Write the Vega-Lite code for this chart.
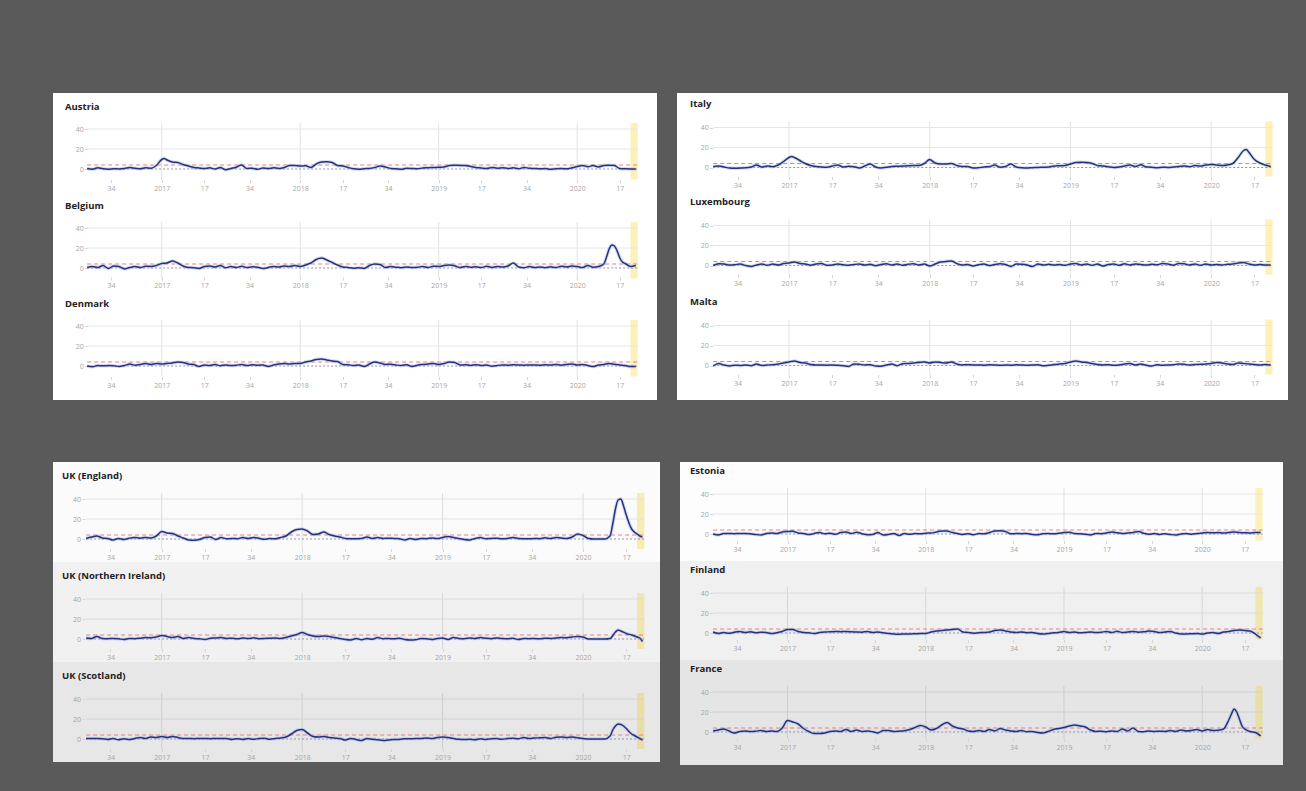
{
"$schema": "https://vega.github.io/schema/vega-lite/v6.json",
"background": "#5a5a5a",
"padding": {"left": 53, "top": 93, "right": 18, "bottom": 26},
"autosize": {"type": "pad"},
"config": {
 "view": {"stroke": null, "fill": "#ffffff"},
 "axis": {"grid": false, "domain": false, "tickSize": 3, "tickColor": "#d5d5d5", "labelPadding": 1.5, "labelFontSize": 7, "labelColor": "#a5a5a5", "labelFont": "Open Sans", "labelOverlap": false, "labelFlush": false},
 "title": {"anchor": "start", "frame": "group", "baseline": "middle", "font": "Open Sans", "fontSize": 9.5, "fontWeight": "bold", "color": "#222222"}
},
"datasets": {
"Austria": [{"w":25,"z":0.5},{"w":27,"z":-0.3},{"w":29,"z":1.2},{"w":31,"z":0.2},{"w":33,"z":-0.2},{"w":35,"z":0.3},{"w":37,"z":0},{"w":39,"z":0.4},{"w":41,"z":1.5},{"w":43,"z":0.8},{"w":45,"z":0.2},{"w":47,"z":1.2},{"w":49,"z":0.8},{"w":51,"z":3.5},{"w":53,"z":9.5},{"w":54,"z":10.5},{"w":55,"z":9},{"w":57,"z":7},{"w":59,"z":6.5},{"w":61,"z":4.5},{"w":63,"z":3},{"w":65,"z":1.5},{"w":67,"z":1},{"w":69,"z":0.5},{"w":71,"z":1.2},{"w":73,"z":0},{"w":75,"z":1.5},{"w":77,"z":-0.8},{"w":79,"z":0.5},{"w":81,"z":1.8},{"w":83,"z":4},{"w":85,"z":0.5},{"w":87,"z":0.8},{"w":89,"z":-0.2},{"w":91,"z":1},{"w":93,"z":0.4},{"w":95,"z":1.3},{"w":97,"z":0.6},{"w":99,"z":1.5},{"w":101,"z":3.5},{"w":103,"z":3.5},{"w":105,"z":3},{"w":107,"z":3.2},{"w":109,"z":1.5},{"w":111,"z":5},{"w":113,"z":7},{"w":115,"z":7.2},{"w":117,"z":6.5},{"w":119,"z":3.5},{"w":121,"z":3},{"w":123,"z":1.5},{"w":125,"z":0.2},{"w":127,"z":-0.2},{"w":129,"z":0.3},{"w":131,"z":0.5},{"w":133,"z":1.5},{"w":135,"z":3},{"w":137,"z":2},{"w":139,"z":0.5},{"w":141,"z":0.2},{"w":143,"z":-0.3},{"w":145,"z":0.8},{"w":147,"z":0.5},{"w":149,"z":0.2},{"w":151,"z":1},{"w":153,"z":1.2},{"w":155,"z":1.5},{"w":157,"z":1.8},{"w":159,"z":2},{"w":161,"z":3.5},{"w":163,"z":3.8},{"w":165,"z":3.5},{"w":167,"z":3.6},{"w":169,"z":2.5},{"w":171,"z":1.5},{"w":173,"z":1},{"w":175,"z":0.5},{"w":177,"z":1.5},{"w":179,"z":0.8},{"w":181,"z":1.3},{"w":183,"z":0.5},{"w":185,"z":1.2},{"w":187,"z":0.3},{"w":189,"z":1.5},{"w":191,"z":0.8},{"w":193,"z":0.5},{"w":195,"z":0.2},{"w":197,"z":0.4},{"w":199,"z":-0.2},{"w":201,"z":0.3},{"w":203,"z":0.5},{"w":205,"z":0.2},{"w":207,"z":1.2},{"w":209,"z":2.5},{"w":211,"z":3.5},{"w":213,"z":2.2},{"w":215,"z":3.5},{"w":217,"z":2},{"w":219,"z":3.5},{"w":221,"z":3.8},{"w":223,"z":3.5},{"w":225,"z":0.5},{"w":227,"z":0.2},{"w":229,"z":0},{"w":231,"z":0}],
"Belgium": [{"w":25,"z":0.5},{"w":27,"z":1.5},{"w":29,"z":0.5},{"w":31,"z":2.5},{"w":33,"z":-0.5},{"w":35,"z":2},{"w":37,"z":1.5},{"w":39,"z":-1},{"w":41,"z":0.5},{"w":43,"z":1.5},{"w":45,"z":0.5},{"w":47,"z":1.8},{"w":49,"z":1.5},{"w":51,"z":2.5},{"w":53,"z":4.5},{"w":55,"z":5},{"w":57,"z":7},{"w":59,"z":5},{"w":61,"z":2},{"w":63,"z":0.5},{"w":65,"z":0.3},{"w":67,"z":-0.5},{"w":69,"z":1.5},{"w":71,"z":2},{"w":73,"z":1},{"w":75,"z":2.5},{"w":77,"z":0.3},{"w":79,"z":1.5},{"w":81,"z":0.5},{"w":83,"z":1.8},{"w":85,"z":0.5},{"w":87,"z":1.2},{"w":89,"z":0.8},{"w":91,"z":-0.5},{"w":93,"z":0.5},{"w":95,"z":1.5},{"w":97,"z":1},{"w":99,"z":2},{"w":101,"z":1.5},{"w":103,"z":2.5},{"w":105,"z":1.5},{"w":107,"z":3},{"w":109,"z":5},{"w":111,"z":8.5},{"w":113,"z":10},{"w":115,"z":8},{"w":117,"z":5.5},{"w":119,"z":3},{"w":121,"z":1},{"w":123,"z":0.5},{"w":125,"z":-0.3},{"w":127,"z":0.3},{"w":129,"z":-0.5},{"w":131,"z":2.5},{"w":133,"z":4},{"w":135,"z":3.5},{"w":137,"z":0.5},{"w":139,"z":1.5},{"w":141,"z":0.8},{"w":143,"z":0.3},{"w":145,"z":1},{"w":147,"z":0.5},{"w":149,"z":0.8},{"w":151,"z":1.5},{"w":153,"z":0.5},{"w":155,"z":1.8},{"w":157,"z":1.5},{"w":159,"z":2.5},{"w":161,"z":3},{"w":163,"z":2.2},{"w":165,"z":0.5},{"w":167,"z":1.5},{"w":169,"z":0.8},{"w":171,"z":1.2},{"w":173,"z":0.5},{"w":175,"z":1.8},{"w":177,"z":0.6},{"w":179,"z":1.5},{"w":181,"z":1},{"w":183,"z":2},{"w":185,"z":5},{"w":187,"z":1},{"w":189,"z":0.3},{"w":191,"z":1.5},{"w":193,"z":0.5},{"w":195,"z":1},{"w":197,"z":0.3},{"w":199,"z":1.2},{"w":201,"z":0.5},{"w":203,"z":1.8},{"w":205,"z":1},{"w":207,"z":2},{"w":209,"z":1.5},{"w":211,"z":0.5},{"w":213,"z":2.5},{"w":215,"z":0.8},{"w":217,"z":1.5},{"w":219,"z":4},{"w":220,"z":11},{"w":221,"z":19},{"w":222,"z":23},{"w":223,"z":22},{"w":224,"z":17},{"w":225,"z":10},{"w":226,"z":6},{"w":227,"z":4.5},{"w":229,"z":1.5},{"w":231,"z":2.5}],
"Denmark": [{"w":25,"z":0},{"w":27,"z":-0.8},{"w":29,"z":0.5},{"w":31,"z":0.2},{"w":33,"z":0.4},{"w":35,"z":0.2},{"w":37,"z":-0.5},{"w":39,"z":0.5},{"w":41,"z":2},{"w":43,"z":0.8},{"w":45,"z":1.5},{"w":47,"z":2.5},{"w":49,"z":1.5},{"w":51,"z":2.5},{"w":53,"z":2},{"w":55,"z":2.5},{"w":57,"z":3},{"w":59,"z":4},{"w":61,"z":3.5},{"w":63,"z":2},{"w":65,"z":1.5},{"w":67,"z":-0.5},{"w":69,"z":1},{"w":71,"z":0.5},{"w":73,"z":1.5},{"w":75,"z":0.3},{"w":77,"z":1},{"w":79,"z":0.5},{"w":81,"z":0.8},{"w":83,"z":1.5},{"w":85,"z":0.5},{"w":87,"z":1.2},{"w":89,"z":0.8},{"w":91,"z":1},{"w":93,"z":-0.5},{"w":95,"z":1},{"w":97,"z":2},{"w":99,"z":2.5},{"w":101,"z":2},{"w":103,"z":2.5},{"w":105,"z":2.5},{"w":107,"z":4},{"w":109,"z":5},{"w":111,"z":6.5},{"w":113,"z":7},{"w":115,"z":6},{"w":117,"z":5},{"w":119,"z":4.5},{"w":121,"z":1.5},{"w":123,"z":1.2},{"w":125,"z":0.5},{"w":127,"z":1},{"w":129,"z":-0.5},{"w":131,"z":2},{"w":133,"z":4},{"w":135,"z":3},{"w":137,"z":1.5},{"w":139,"z":1.8},{"w":141,"z":1},{"w":143,"z":0.5},{"w":145,"z":1.3},{"w":147,"z":-0.5},{"w":149,"z":0.8},{"w":151,"z":1.5},{"w":153,"z":2},{"w":155,"z":2.5},{"w":157,"z":1.5},{"w":159,"z":2.5},{"w":161,"z":4},{"w":163,"z":3.5},{"w":165,"z":1},{"w":167,"z":1.2},{"w":169,"z":0.6},{"w":171,"z":1.3},{"w":173,"z":0.5},{"w":175,"z":1},{"w":177,"z":-0.3},{"w":179,"z":0.5},{"w":181,"z":1},{"w":183,"z":0.8},{"w":185,"z":1.2},{"w":187,"z":1},{"w":189,"z":0.8},{"w":191,"z":1.1},{"w":193,"z":1},{"w":195,"z":0.8},{"w":197,"z":1.2},{"w":199,"z":1},{"w":201,"z":1.5},{"w":203,"z":0.8},{"w":205,"z":1.5},{"w":207,"z":2},{"w":209,"z":1},{"w":211,"z":1.5},{"w":213,"z":0.5},{"w":215,"z":-0.5},{"w":217,"z":1},{"w":219,"z":1.5},{"w":221,"z":2.5},{"w":223,"z":1.8},{"w":225,"z":1},{"w":227,"z":0.5},{"w":229,"z":-0.5},{"w":231,"z":-0.5}],
"Italy": [{"w":25,"z":1},{"w":27,"z":1.5},{"w":29,"z":0.5},{"w":31,"z":-0.5},{"w":33,"z":-0.8},{"w":35,"z":-0.5},{"w":37,"z":-0.3},{"w":39,"z":0.5},{"w":41,"z":2.5},{"w":43,"z":0.5},{"w":45,"z":1.5},{"w":47,"z":0.8},{"w":49,"z":2.5},{"w":51,"z":6},{"w":53,"z":10},{"w":54,"z":11},{"w":55,"z":10},{"w":57,"z":7},{"w":59,"z":4},{"w":61,"z":2},{"w":63,"z":1},{"w":65,"z":0.5},{"w":67,"z":0.3},{"w":69,"z":1.5},{"w":71,"z":2.5},{"w":73,"z":0.5},{"w":75,"z":1.2},{"w":77,"z":0.8},{"w":79,"z":-0.5},{"w":81,"z":1.5},{"w":83,"z":3.5},{"w":85,"z":0.5},{"w":87,"z":-0.5},{"w":89,"z":0.2},{"w":91,"z":1},{"w":93,"z":1.2},{"w":95,"z":1.5},{"w":97,"z":1.8},{"w":99,"z":2},{"w":101,"z":2},{"w":103,"z":4},{"w":105,"z":8},{"w":107,"z":4.5},{"w":109,"z":3.5},{"w":111,"z":3.5},{"w":113,"z":4},{"w":115,"z":2},{"w":117,"z":1},{"w":119,"z":1},{"w":121,"z":-0.5},{"w":123,"z":-0.3},{"w":125,"z":0.5},{"w":127,"z":0.8},{"w":129,"z":2.5},{"w":131,"z":0.3},{"w":133,"z":1},{"w":135,"z":3.5},{"w":137,"z":0.5},{"w":139,"z":-0.3},{"w":141,"z":-0.5},{"w":143,"z":-0.2},{"w":145,"z":0},{"w":147,"z":0.3},{"w":149,"z":0.5},{"w":151,"z":1.5},{"w":153,"z":1.8},{"w":155,"z":2},{"w":157,"z":3.5},{"w":159,"z":5},{"w":161,"z":5.2},{"w":163,"z":5},{"w":165,"z":4},{"w":167,"z":2},{"w":169,"z":1.5},{"w":171,"z":0.8},{"w":173,"z":0},{"w":175,"z":0.5},{"w":177,"z":1.5},{"w":179,"z":2.5},{"w":181,"z":1},{"w":183,"z":2.8},{"w":185,"z":0.5},{"w":187,"z":0.3},{"w":189,"z":-0.2},{"w":191,"z":0.3},{"w":193,"z":0},{"w":195,"z":0.5},{"w":197,"z":1},{"w":199,"z":1.5},{"w":201,"z":0.8},{"w":203,"z":2},{"w":205,"z":1.5},{"w":207,"z":2.5},{"w":209,"z":3},{"w":211,"z":2.5},{"w":213,"z":2},{"w":215,"z":2.5},{"w":217,"z":4},{"w":219,"z":10},{"w":221,"z":17},{"w":222,"z":18},{"w":223,"z":15},{"w":225,"z":8},{"w":227,"z":4.5},{"w":229,"z":2.5},{"w":231,"z":1}],
"Luxembourg": [{"w":25,"z":0},{"w":27,"z":1.8},{"w":29,"z":1.5},{"w":31,"z":0.5},{"w":33,"z":0.8},{"w":35,"z":1.5},{"w":37,"z":0},{"w":39,"z":-1},{"w":41,"z":0.5},{"w":43,"z":1.5},{"w":45,"z":0.2},{"w":47,"z":1.5},{"w":49,"z":0.5},{"w":51,"z":2},{"w":53,"z":2.5},{"w":55,"z":3.5},{"w":57,"z":2},{"w":59,"z":1.5},{"w":61,"z":0.3},{"w":63,"z":1.5},{"w":65,"z":2},{"w":67,"z":0.2},{"w":69,"z":0.5},{"w":71,"z":1.5},{"w":73,"z":0.8},{"w":75,"z":0.2},{"w":77,"z":1},{"w":79,"z":1.5},{"w":81,"z":0.5},{"w":83,"z":1.2},{"w":85,"z":-0.2},{"w":87,"z":1},{"w":89,"z":1.8},{"w":91,"z":0.5},{"w":93,"z":1.5},{"w":95,"z":0.3},{"w":97,"z":1.2},{"w":99,"z":1.8},{"w":101,"z":0.5},{"w":103,"z":1.5},{"w":105,"z":-0.5},{"w":107,"z":1.5},{"w":109,"z":3.5},{"w":111,"z":4},{"w":113,"z":4.5},{"w":115,"z":2},{"w":117,"z":0.5},{"w":119,"z":1},{"w":121,"z":-0.5},{"w":123,"z":0.8},{"w":125,"z":1.5},{"w":127,"z":0},{"w":129,"z":1},{"w":131,"z":1.8},{"w":133,"z":1},{"w":135,"z":-1},{"w":137,"z":1.5},{"w":139,"z":1.2},{"w":141,"z":0.5},{"w":143,"z":-1},{"w":145,"z":1.5},{"w":147,"z":0.5},{"w":149,"z":1.2},{"w":151,"z":0.5},{"w":153,"z":1},{"w":155,"z":0.2},{"w":157,"z":1.5},{"w":159,"z":2},{"w":161,"z":0.5},{"w":163,"z":1.5},{"w":165,"z":0.2},{"w":167,"z":1.5},{"w":169,"z":-0.5},{"w":171,"z":1},{"w":173,"z":1.5},{"w":175,"z":0.2},{"w":177,"z":1.8},{"w":179,"z":0.5},{"w":181,"z":1.5},{"w":183,"z":1},{"w":185,"z":0.5},{"w":187,"z":1.2},{"w":189,"z":0.8},{"w":191,"z":2},{"w":193,"z":1.5},{"w":195,"z":0.3},{"w":197,"z":2},{"w":199,"z":1.8},{"w":201,"z":0.5},{"w":203,"z":1.5},{"w":205,"z":0.2},{"w":207,"z":1.5},{"w":209,"z":0.5},{"w":211,"z":1},{"w":213,"z":0.5},{"w":215,"z":1.2},{"w":217,"z":1.5},{"w":219,"z":2.5},{"w":221,"z":3},{"w":223,"z":1.5},{"w":225,"z":0.5},{"w":227,"z":1},{"w":229,"z":0.5},{"w":231,"z":0.5}],
"Malta": [{"w":25,"z":-0.5},{"w":27,"z":2},{"w":29,"z":0.5},{"w":31,"z":-0.5},{"w":33,"z":0.3},{"w":35,"z":0},{"w":37,"z":0.5},{"w":39,"z":-0.2},{"w":41,"z":1.5},{"w":43,"z":0},{"w":45,"z":0.5},{"w":47,"z":0.8},{"w":49,"z":1.5},{"w":51,"z":2.5},{"w":53,"z":3.5},{"w":55,"z":4.5},{"w":57,"z":3},{"w":59,"z":2.5},{"w":61,"z":1},{"w":63,"z":0.5},{"w":65,"z":0.5},{"w":67,"z":0.3},{"w":69,"z":0.5},{"w":71,"z":0.2},{"w":73,"z":-0.3},{"w":75,"z":-1},{"w":77,"z":1.5},{"w":79,"z":1.2},{"w":81,"z":0.5},{"w":83,"z":0.8},{"w":85,"z":-0.5},{"w":87,"z":-0.8},{"w":89,"z":0.5},{"w":91,"z":1.5},{"w":93,"z":-0.2},{"w":95,"z":1.8},{"w":97,"z":2},{"w":99,"z":2.5},{"w":101,"z":3},{"w":103,"z":3.5},{"w":105,"z":2.5},{"w":107,"z":3.5},{"w":109,"z":3},{"w":111,"z":2.5},{"w":113,"z":3.5},{"w":115,"z":1.5},{"w":117,"z":0.5},{"w":119,"z":0.8},{"w":121,"z":0.5},{"w":123,"z":0.5},{"w":125,"z":0.3},{"w":127,"z":0.8},{"w":129,"z":0.5},{"w":131,"z":0.2},{"w":133,"z":0.5},{"w":135,"z":0.3},{"w":137,"z":0.8},{"w":139,"z":0.5},{"w":141,"z":0.2},{"w":143,"z":0.5},{"w":145,"z":0.8},{"w":147,"z":-0.3},{"w":149,"z":0.3},{"w":151,"z":1},{"w":153,"z":1.5},{"w":155,"z":2},{"w":157,"z":3.5},{"w":159,"z":4.5},{"w":161,"z":3.5},{"w":163,"z":3},{"w":165,"z":2},{"w":167,"z":1},{"w":169,"z":0.5},{"w":171,"z":0.8},{"w":173,"z":0.2},{"w":175,"z":0.5},{"w":177,"z":1.5},{"w":179,"z":2},{"w":181,"z":0.5},{"w":183,"z":1.5},{"w":185,"z":0.3},{"w":187,"z":-0.5},{"w":189,"z":0.8},{"w":191,"z":0.2},{"w":193,"z":0.5},{"w":195,"z":0.8},{"w":197,"z":1.5},{"w":199,"z":1.2},{"w":201,"z":0.5},{"w":203,"z":1},{"w":205,"z":1.2},{"w":207,"z":1.5},{"w":209,"z":2},{"w":211,"z":3},{"w":213,"z":2.5},{"w":215,"z":1.5},{"w":217,"z":1},{"w":219,"z":2.5},{"w":221,"z":2},{"w":223,"z":1.5},{"w":225,"z":1},{"w":227,"z":0.5},{"w":229,"z":1},{"w":231,"z":0.5}],
"England": [{"w":25,"z":0.5},{"w":27,"z":2},{"w":29,"z":3},{"w":31,"z":1},{"w":33,"z":0.5},{"w":35,"z":-1},{"w":37,"z":0.5},{"w":39,"z":-0.5},{"w":41,"z":0.8},{"w":43,"z":1.5},{"w":45,"z":0.8},{"w":47,"z":1.5},{"w":49,"z":1},{"w":51,"z":3},{"w":53,"z":7.5},{"w":55,"z":6},{"w":57,"z":5.5},{"w":59,"z":3},{"w":61,"z":1},{"w":63,"z":-1},{"w":65,"z":-1.2},{"w":67,"z":-0.5},{"w":69,"z":1.5},{"w":71,"z":2},{"w":73,"z":-0.5},{"w":75,"z":1.5},{"w":77,"z":0.2},{"w":79,"z":0.5},{"w":81,"z":0.3},{"w":83,"z":1.5},{"w":85,"z":0.5},{"w":87,"z":1.5},{"w":89,"z":0.8},{"w":91,"z":-0.3},{"w":93,"z":0.5},{"w":95,"z":0.2},{"w":97,"z":1.5},{"w":99,"z":3},{"w":101,"z":7},{"w":103,"z":9.5},{"w":105,"z":10},{"w":107,"z":8},{"w":109,"z":4.5},{"w":111,"z":5},{"w":113,"z":7},{"w":115,"z":4.5},{"w":117,"z":3},{"w":119,"z":2},{"w":121,"z":0.5},{"w":123,"z":0.2},{"w":125,"z":0.3},{"w":127,"z":0.5},{"w":129,"z":2},{"w":131,"z":0.5},{"w":133,"z":1.5},{"w":135,"z":0.5},{"w":137,"z":0.8},{"w":139,"z":0.5},{"w":141,"z":0.3},{"w":143,"z":-1},{"w":145,"z":0.5},{"w":147,"z":-0.5},{"w":149,"z":0.5},{"w":151,"z":0.3},{"w":153,"z":1},{"w":155,"z":0.5},{"w":157,"z":1.5},{"w":159,"z":2.5},{"w":161,"z":1.5},{"w":163,"z":0.5},{"w":165,"z":-0.5},{"w":167,"z":-1},{"w":169,"z":0.5},{"w":171,"z":1.5},{"w":173,"z":0.3},{"w":175,"z":0.5},{"w":177,"z":0.8},{"w":179,"z":0.2},{"w":181,"z":0.5},{"w":183,"z":1.5},{"w":185,"z":0.5},{"w":187,"z":0.3},{"w":189,"z":0.2},{"w":191,"z":0.5},{"w":193,"z":0.3},{"w":195,"z":1.2},{"w":197,"z":0.5},{"w":199,"z":1.5},{"w":201,"z":1},{"w":203,"z":0.5},{"w":205,"z":2},{"w":207,"z":5},{"w":209,"z":3.5},{"w":211,"z":0.5},{"w":213,"z":0},{"w":215,"z":0},{"w":217,"z":0},{"w":219,"z":3},{"w":220,"z":15},{"w":221,"z":30},{"w":222,"z":39},{"w":223,"z":40},{"w":224,"z":33},{"w":225,"z":24},{"w":226,"z":16},{"w":227,"z":10},{"w":228,"z":7},{"w":229,"z":5},{"w":230,"z":3},{"w":231,"z":2}],
"NorthernIreland": [{"w":25,"z":1},{"w":27,"z":0.5},{"w":29,"z":2.5},{"w":31,"z":0.5},{"w":33,"z":0.3},{"w":35,"z":0.5},{"w":37,"z":0.2},{"w":39,"z":-0.5},{"w":41,"z":0.5},{"w":43,"z":0.3},{"w":45,"z":0.8},{"w":47,"z":1.5},{"w":49,"z":1.2},{"w":51,"z":2},{"w":53,"z":3.5},{"w":55,"z":2.5},{"w":57,"z":1.5},{"w":59,"z":2.5},{"w":61,"z":0.5},{"w":63,"z":1.5},{"w":65,"z":0.5},{"w":67,"z":0.2},{"w":69,"z":-0.5},{"w":71,"z":0.8},{"w":73,"z":1},{"w":75,"z":1.5},{"w":77,"z":0.5},{"w":79,"z":0.8},{"w":81,"z":0.2},{"w":83,"z":1},{"w":85,"z":0.5},{"w":87,"z":1.2},{"w":89,"z":0.3},{"w":91,"z":0.5},{"w":93,"z":0.8},{"w":95,"z":1},{"w":97,"z":0.5},{"w":99,"z":1.5},{"w":101,"z":3},{"w":103,"z":4.5},{"w":105,"z":6.5},{"w":107,"z":4.5},{"w":109,"z":3},{"w":111,"z":2.5},{"w":113,"z":3},{"w":115,"z":2.5},{"w":117,"z":1.5},{"w":119,"z":0.5},{"w":121,"z":-0.5},{"w":123,"z":-1},{"w":125,"z":0.5},{"w":127,"z":-0.8},{"w":129,"z":0.5},{"w":131,"z":-0.3},{"w":133,"z":1.5},{"w":135,"z":0.3},{"w":137,"z":0.5},{"w":139,"z":0.2},{"w":141,"z":0.8},{"w":143,"z":-0.5},{"w":145,"z":-1},{"w":147,"z":-0.8},{"w":149,"z":0.5},{"w":151,"z":0.3},{"w":153,"z":-0.5},{"w":155,"z":0.5},{"w":157,"z":1},{"w":159,"z":-0.5},{"w":161,"z":1.5},{"w":163,"z":0.5},{"w":165,"z":0.3},{"w":167,"z":1},{"w":169,"z":0.5},{"w":171,"z":1.5},{"w":173,"z":0.8},{"w":175,"z":0.3},{"w":177,"z":1},{"w":179,"z":0.5},{"w":181,"z":0.2},{"w":183,"z":0.8},{"w":185,"z":-0.5},{"w":187,"z":0.5},{"w":189,"z":0.3},{"w":191,"z":0.5},{"w":193,"z":0.2},{"w":195,"z":0.8},{"w":197,"z":0.5},{"w":199,"z":1},{"w":201,"z":1.5},{"w":203,"z":1.2},{"w":205,"z":2},{"w":207,"z":2.5},{"w":209,"z":2},{"w":211,"z":0},{"w":213,"z":0},{"w":215,"z":0},{"w":217,"z":0},{"w":219,"z":0.5},{"w":221,"z":7},{"w":222,"z":9},{"w":223,"z":8},{"w":225,"z":5.5},{"w":227,"z":4},{"w":229,"z":2},{"w":230,"z":1},{"w":231,"z":-2.5}],
"Scotland": [{"w":25,"z":0.5},{"w":27,"z":0.5},{"w":29,"z":0.5},{"w":31,"z":0.3},{"w":33,"z":-0.5},{"w":35,"z":0.5},{"w":37,"z":-0.8},{"w":39,"z":0.2},{"w":41,"z":-0.5},{"w":43,"z":0.5},{"w":45,"z":1.5},{"w":47,"z":0.5},{"w":49,"z":2},{"w":51,"z":1.5},{"w":53,"z":2.5},{"w":55,"z":1.5},{"w":57,"z":2.5},{"w":59,"z":1.5},{"w":61,"z":0.5},{"w":63,"z":0.5},{"w":65,"z":0.3},{"w":67,"z":0.5},{"w":69,"z":0.5},{"w":71,"z":0.3},{"w":73,"z":0.5},{"w":75,"z":0.4},{"w":77,"z":0.5},{"w":79,"z":-0.5},{"w":81,"z":0.3},{"w":83,"z":-0.5},{"w":85,"z":0.5},{"w":87,"z":-0.3},{"w":89,"z":0.5},{"w":91,"z":0.8},{"w":93,"z":-0.3},{"w":95,"z":0.5},{"w":97,"z":1},{"w":99,"z":2},{"w":101,"z":5},{"w":103,"z":8.5},{"w":105,"z":9.5},{"w":107,"z":6},{"w":109,"z":2.5},{"w":111,"z":2},{"w":113,"z":2.5},{"w":115,"z":1.5},{"w":117,"z":1},{"w":119,"z":0.5},{"w":121,"z":-1},{"w":123,"z":0.5},{"w":125,"z":-0.5},{"w":127,"z":-1.5},{"w":129,"z":0.5},{"w":131,"z":-0.3},{"w":133,"z":-0.8},{"w":135,"z":-1.5},{"w":137,"z":-1},{"w":139,"z":-0.5},{"w":141,"z":-0.5},{"w":143,"z":0.3},{"w":145,"z":0.2},{"w":147,"z":0.5},{"w":149,"z":0.5},{"w":151,"z":1},{"w":153,"z":0.5},{"w":155,"z":1.5},{"w":157,"z":2},{"w":159,"z":1.5},{"w":161,"z":0.5},{"w":163,"z":-0.3},{"w":165,"z":-0.5},{"w":167,"z":-0.3},{"w":169,"z":-0.8},{"w":171,"z":0.2},{"w":173,"z":-0.5},{"w":175,"z":0.3},{"w":177,"z":0.5},{"w":179,"z":-0.3},{"w":181,"z":0.5},{"w":183,"z":0.8},{"w":185,"z":0.2},{"w":187,"z":1.5},{"w":189,"z":0.5},{"w":191,"z":1},{"w":193,"z":1.2},{"w":195,"z":1.5},{"w":197,"z":0.5},{"w":199,"z":1.8},{"w":201,"z":2},{"w":203,"z":1.5},{"w":205,"z":2},{"w":207,"z":1.2},{"w":209,"z":0.5},{"w":211,"z":0},{"w":213,"z":0},{"w":215,"z":0},{"w":217,"z":0},{"w":219,"z":3},{"w":220,"z":9},{"w":221,"z":13},{"w":222,"z":15},{"w":223,"z":14.5},{"w":224,"z":13},{"w":225,"z":10.5},{"w":226,"z":7.5},{"w":227,"z":5},{"w":228,"z":3.5},{"w":229,"z":2},{"w":231,"z":-1}],
"Estonia": [{"w":25,"z":0},{"w":27,"z":-1},{"w":29,"z":0.5},{"w":31,"z":0.5},{"w":33,"z":0.3},{"w":35,"z":0.5},{"w":37,"z":0.5},{"w":39,"z":0.3},{"w":41,"z":-0.5},{"w":43,"z":-1},{"w":45,"z":0.5},{"w":47,"z":1},{"w":49,"z":0.5},{"w":51,"z":2},{"w":53,"z":2.5},{"w":55,"z":2.8},{"w":57,"z":1},{"w":59,"z":0.5},{"w":61,"z":-0.5},{"w":63,"z":0.5},{"w":65,"z":1.5},{"w":67,"z":0.2},{"w":69,"z":0.8},{"w":71,"z":-0.3},{"w":73,"z":1.5},{"w":75,"z":2},{"w":77,"z":0.5},{"w":79,"z":1.8},{"w":81,"z":0.3},{"w":83,"z":-0.8},{"w":85,"z":-0.5},{"w":87,"z":1.5},{"w":89,"z":-1},{"w":91,"z":-0.5},{"w":93,"z":0.5},{"w":95,"z":-1.5},{"w":97,"z":0.5},{"w":99,"z":-0.3},{"w":101,"z":0.5},{"w":103,"z":0.2},{"w":105,"z":0.8},{"w":107,"z":1},{"w":109,"z":2},{"w":111,"z":3},{"w":113,"z":3},{"w":115,"z":1.5},{"w":117,"z":0.5},{"w":119,"z":-0.5},{"w":121,"z":0.3},{"w":123,"z":-0.8},{"w":125,"z":0.5},{"w":127,"z":0.2},{"w":129,"z":1.5},{"w":131,"z":3},{"w":133,"z":3.2},{"w":135,"z":2.5},{"w":137,"z":0.2},{"w":139,"z":0.5},{"w":141,"z":0.3},{"w":143,"z":0.5},{"w":145,"z":-0.5},{"w":147,"z":-0.8},{"w":149,"z":0.3},{"w":151,"z":0.5},{"w":153,"z":0.2},{"w":155,"z":0.8},{"w":157,"z":1.5},{"w":159,"z":1.8},{"w":161,"z":0.5},{"w":163,"z":0.2},{"w":165,"z":-0.3},{"w":167,"z":-1},{"w":169,"z":0.5},{"w":171,"z":0.3},{"w":173,"z":1},{"w":175,"z":2},{"w":177,"z":1.2},{"w":179,"z":0.5},{"w":181,"z":1},{"w":183,"z":1.5},{"w":185,"z":2.5},{"w":187,"z":0.8},{"w":189,"z":-0.3},{"w":191,"z":0.5},{"w":193,"z":-0.5},{"w":195,"z":0.3},{"w":197,"z":-0.5},{"w":199,"z":-1},{"w":201,"z":0},{"w":203,"z":0.5},{"w":205,"z":-0.3},{"w":207,"z":0.5},{"w":209,"z":1},{"w":211,"z":1.5},{"w":213,"z":1.2},{"w":215,"z":1.5},{"w":217,"z":1},{"w":219,"z":1.5},{"w":221,"z":2},{"w":223,"z":1.5},{"w":225,"z":1.2},{"w":227,"z":1},{"w":229,"z":1.5},{"w":231,"z":1.5}],
"Finland": [{"w":25,"z":1},{"w":27,"z":-0.5},{"w":29,"z":0.5},{"w":31,"z":-0.3},{"w":33,"z":0.8},{"w":35,"z":1.5},{"w":37,"z":0.5},{"w":39,"z":1.2},{"w":41,"z":0.3},{"w":43,"z":0.8},{"w":45,"z":0.5},{"w":47,"z":-0.5},{"w":49,"z":0.3},{"w":51,"z":1.5},{"w":53,"z":3.5},{"w":55,"z":3.5},{"w":57,"z":1.5},{"w":59,"z":0.5},{"w":61,"z":0.2},{"w":63,"z":-0.5},{"w":65,"z":0.5},{"w":67,"z":1},{"w":69,"z":1.2},{"w":71,"z":1.5},{"w":73,"z":1.3},{"w":75,"z":1.5},{"w":77,"z":1.2},{"w":79,"z":1},{"w":81,"z":0.8},{"w":83,"z":1.5},{"w":85,"z":0.5},{"w":87,"z":1},{"w":89,"z":0.2},{"w":91,"z":-0.5},{"w":93,"z":-1},{"w":95,"z":-1.2},{"w":97,"z":-1},{"w":99,"z":-1},{"w":101,"z":-0.8},{"w":103,"z":-0.5},{"w":105,"z":-0.5},{"w":107,"z":1},{"w":109,"z":2},{"w":111,"z":2.5},{"w":113,"z":3},{"w":115,"z":3.5},{"w":117,"z":4},{"w":119,"z":1},{"w":121,"z":0.5},{"w":123,"z":-0.2},{"w":125,"z":0.3},{"w":127,"z":0.5},{"w":129,"z":1},{"w":131,"z":2.5},{"w":133,"z":3},{"w":135,"z":2},{"w":137,"z":1},{"w":139,"z":0.5},{"w":141,"z":1},{"w":143,"z":0.3},{"w":145,"z":0.5},{"w":147,"z":-0.5},{"w":149,"z":-1},{"w":151,"z":-0.5},{"w":153,"z":0.2},{"w":155,"z":0.5},{"w":157,"z":1.5},{"w":159,"z":0.5},{"w":161,"z":1},{"w":163,"z":0.2},{"w":165,"z":0.5},{"w":167,"z":1},{"w":169,"z":0.5},{"w":171,"z":0.8},{"w":173,"z":1.5},{"w":175,"z":0.5},{"w":177,"z":1.8},{"w":179,"z":0.5},{"w":181,"z":1},{"w":183,"z":1.5},{"w":185,"z":0.8},{"w":187,"z":1.2},{"w":189,"z":2},{"w":191,"z":1.5},{"w":193,"z":0.5},{"w":195,"z":1},{"w":197,"z":1.5},{"w":199,"z":0},{"w":201,"z":-1},{"w":203,"z":-1},{"w":205,"z":-0.8},{"w":207,"z":-0.5},{"w":209,"z":-1},{"w":211,"z":0},{"w":213,"z":0.5},{"w":215,"z":-0.5},{"w":217,"z":1},{"w":219,"z":1.5},{"w":221,"z":2.5},{"w":223,"z":3},{"w":225,"z":2.5},{"w":227,"z":2},{"w":229,"z":-1},{"w":230,"z":-3},{"w":231,"z":-5}],
"France": [{"w":25,"z":1},{"w":27,"z":2},{"w":29,"z":3},{"w":31,"z":1},{"w":33,"z":-1},{"w":35,"z":0.5},{"w":37,"z":1},{"w":39,"z":0.5},{"w":41,"z":0.8},{"w":43,"z":1.5},{"w":45,"z":0.5},{"w":47,"z":1},{"w":49,"z":0.5},{"w":51,"z":4},{"w":53,"z":11.5},{"w":55,"z":10},{"w":57,"z":8},{"w":59,"z":3.5},{"w":61,"z":0.5},{"w":63,"z":-1.5},{"w":65,"z":-1.5},{"w":67,"z":-1},{"w":69,"z":0.5},{"w":71,"z":1},{"w":73,"z":0.5},{"w":75,"z":2.5},{"w":77,"z":0.5},{"w":79,"z":2},{"w":81,"z":0.5},{"w":83,"z":1},{"w":85,"z":0.3},{"w":87,"z":-1},{"w":89,"z":1.5},{"w":91,"z":1.5},{"w":93,"z":0.5},{"w":95,"z":0.8},{"w":97,"z":1.2},{"w":99,"z":2.5},{"w":101,"z":4.5},{"w":103,"z":6.5},{"w":105,"z":5},{"w":107,"z":2},{"w":109,"z":3.5},{"w":111,"z":7},{"w":113,"z":9.5},{"w":115,"z":6},{"w":117,"z":4},{"w":119,"z":3},{"w":121,"z":1},{"w":123,"z":0.5},{"w":125,"z":1.5},{"w":127,"z":0.5},{"w":129,"z":2.5},{"w":131,"z":1},{"w":133,"z":3.5},{"w":135,"z":2},{"w":137,"z":1},{"w":139,"z":0.5},{"w":141,"z":1.5},{"w":143,"z":0.3},{"w":145,"z":0.5},{"w":147,"z":-0.5},{"w":149,"z":-1},{"w":151,"z":0.5},{"w":153,"z":2.5},{"w":155,"z":3.5},{"w":157,"z":4.5},{"w":159,"z":6},{"w":161,"z":7},{"w":163,"z":6},{"w":165,"z":5},{"w":167,"z":2},{"w":169,"z":0.5},{"w":171,"z":0.8},{"w":173,"z":0.3},{"w":175,"z":1},{"w":177,"z":0.5},{"w":179,"z":3},{"w":181,"z":1},{"w":183,"z":4},{"w":185,"z":0.5},{"w":187,"z":0.3},{"w":189,"z":1},{"w":191,"z":0.5},{"w":193,"z":0.8},{"w":195,"z":0.5},{"w":197,"z":1.5},{"w":199,"z":0.5},{"w":201,"z":2},{"w":203,"z":1},{"w":205,"z":1.5},{"w":207,"z":2.5},{"w":209,"z":1},{"w":211,"z":2.5},{"w":213,"z":1.5},{"w":215,"z":1.8},{"w":217,"z":3},{"w":219,"z":12},{"w":220,"z":18},{"w":221,"z":23},{"w":222,"z":20},{"w":223,"z":13},{"w":224,"z":6},{"w":225,"z":3},{"w":227,"z":0.5},{"w":229,"z":-0.5},{"w":230,"z":-2},{"w":231,"z":-4}]
},
"vconcat": [
{"hconcat": [
{"vconcat": [
{"width": 604, "height": 99, "title": {"text": "Austria", "offset": -18, "dx": 12},
 "layer": [
 {"data": {"values": [{}]}, "mark": {"type": "rect", "color": "#fbf1b9"}, "encoding": {"x": {"datum": 229}, "x2": {"datum": 231.7}, "y": {"datum": 46}, "y2": {"datum": -10.5}}},
 {"data": {"values": [{"t": 53}, {"t": 105}, {"t": 157}, {"t": 209}]}, "mark": {"type": "rule", "color": "#e2e2e2"}, "encoding": {"x": {"field": "t", "type": "quantitative"}, "y": {"datum": 46}, "y2": {"datum": -10.5}}},
 {"data": {"values": [{"g": 20}, {"g": 40}]}, "mark": {"type": "rule", "color": "#e6e6e6"}, "encoding": {"y": {"field": "g", "type": "quantitative"}, "x": {"datum": 25}, "x2": {"datum": 231.7}}},
 {"data": {"values": [{}]}, "mark": {"type": "rule", "color": "#8d93b3", "strokeDash": [2, 2]}, "encoding": {"y": {"datum": 0}, "x": {"datum": 25}, "x2": {"datum": 231.7}}},
 {"data": {"values": [{}]}, "mark": {"type": "rule", "color": "#e77f86", "strokeDash": [4, 3]}, "encoding": {"y": {"datum": 4}, "x": {"datum": 25}, "x2": {"datum": 231.7}}},
 {"data": {"name": "Austria"}, "mark": {"type": "line", "color": "#aebbe8", "strokeWidth": 3.5, "opacity": 0.5, "interpolate": "monotone"}, "encoding": {"x": {"field": "w", "type": "quantitative"}, "y": {"field": "z", "type": "quantitative"}}},
 {"data": {"name": "Austria"}, "mark": {"type": "line", "color": "#26337c", "strokeWidth": 1.5, "interpolate": "monotone"}, "encoding": {"x": {"field": "w", "type": "quantitative", "scale": {"domain": [12.19, 238.96], "nice": false, "zero": false}, "axis": {"values": [34, 53, 69, 86, 105, 121, 138, 157, 173, 190, 209, 225], "labelExpr": "datum.value==53?'2017':datum.value==105?'2018':datum.value==157?'2019':datum.value==209?'2020':''+((datum.value-1)%52+1)", "offset": -12.5, "title": null}}, "y": {"field": "z", "type": "quantitative", "scale": {"domain": [-23, 76], "nice": false, "zero": false}, "axis": {"values": [0, 20, 40], "offset": -34.7, "title": null}}}}
 ]},
{"width": 604, "height": 98, "title": {"text": "Belgium", "offset": -18, "dx": 12},
 "layer": [
 {"data": {"values": [{}]}, "mark": {"type": "rect", "color": "#fbf1b9"}, "encoding": {"x": {"datum": 229}, "x2": {"datum": 231.7}, "y": {"datum": 46}, "y2": {"datum": -10.5}}},
 {"data": {"values": [{"t": 53}, {"t": 105}, {"t": 157}, {"t": 209}]}, "mark": {"type": "rule", "color": "#e2e2e2"}, "encoding": {"x": {"field": "t", "type": "quantitative"}, "y": {"datum": 46}, "y2": {"datum": -10.5}}},
 {"data": {"values": [{"g": 20}, {"g": 40}]}, "mark": {"type": "rule", "color": "#e6e6e6"}, "encoding": {"y": {"field": "g", "type": "quantitative"}, "x": {"datum": 25}, "x2": {"datum": 231.7}}},
 {"data": {"values": [{}]}, "mark": {"type": "rule", "color": "#8d93b3", "strokeDash": [2, 2]}, "encoding": {"y": {"datum": 0}, "x": {"datum": 25}, "x2": {"datum": 231.7}}},
 {"data": {"values": [{}]}, "mark": {"type": "rule", "color": "#e77f86", "strokeDash": [4, 3]}, "encoding": {"y": {"datum": 4}, "x": {"datum": 25}, "x2": {"datum": 231.7}}},
 {"data": {"name": "Belgium"}, "mark": {"type": "line", "color": "#aebbe8", "strokeWidth": 3.5, "opacity": 0.5, "interpolate": "monotone"}, "encoding": {"x": {"field": "w", "type": "quantitative"}, "y": {"field": "z", "type": "quantitative"}}},
 {"data": {"name": "Belgium"}, "mark": {"type": "line", "color": "#26337c", "strokeWidth": 1.5, "interpolate": "monotone"}, "encoding": {"x": {"field": "w", "type": "quantitative", "scale": {"domain": [12.19, 238.96], "nice": false, "zero": false}, "axis": {"values": [34, 53, 69, 86, 105, 121, 138, 157, 173, 190, 209, 225], "labelExpr": "datum.value==53?'2017':datum.value==105?'2018':datum.value==157?'2019':datum.value==209?'2020':''+((datum.value-1)%52+1)", "offset": -13, "title": null}}, "y": {"field": "z", "type": "quantitative", "scale": {"domain": [-22, 76], "nice": false, "zero": false}, "axis": {"values": [0, 20, 40], "offset": -34.7, "title": null}}}}
 ]},
{"width": 604, "height": 110, "title": {"text": "Denmark", "offset": -18, "dx": 12},
 "layer": [
 {"data": {"values": [{}]}, "mark": {"type": "rect", "color": "#fbf1b9"}, "encoding": {"x": {"datum": 229}, "x2": {"datum": 231.7}, "y": {"datum": 46}, "y2": {"datum": -10.5}}},
 {"data": {"values": [{"t": 53}, {"t": 105}, {"t": 157}, {"t": 209}]}, "mark": {"type": "rule", "color": "#e2e2e2"}, "encoding": {"x": {"field": "t", "type": "quantitative"}, "y": {"datum": 46}, "y2": {"datum": -10.5}}},
 {"data": {"values": [{"g": 20}, {"g": 40}]}, "mark": {"type": "rule", "color": "#e6e6e6"}, "encoding": {"y": {"field": "g", "type": "quantitative"}, "x": {"datum": 25}, "x2": {"datum": 231.7}}},
 {"data": {"values": [{}]}, "mark": {"type": "rule", "color": "#8d93b3", "strokeDash": [2, 2]}, "encoding": {"y": {"datum": 0}, "x": {"datum": 25}, "x2": {"datum": 231.7}}},
 {"data": {"values": [{}]}, "mark": {"type": "rule", "color": "#e77f86", "strokeDash": [4, 3]}, "encoding": {"y": {"datum": 4}, "x": {"datum": 25}, "x2": {"datum": 231.7}}},
 {"data": {"name": "Denmark"}, "mark": {"type": "line", "color": "#aebbe8", "strokeWidth": 3.5, "opacity": 0.5, "interpolate": "monotone"}, "encoding": {"x": {"field": "w", "type": "quantitative"}, "y": {"field": "z", "type": "quantitative"}}},
 {"data": {"name": "Denmark"}, "mark": {"type": "line", "color": "#26337c", "strokeWidth": 1.5, "interpolate": "monotone"}, "encoding": {"x": {"field": "w", "type": "quantitative", "scale": {"domain": [12.19, 238.96], "nice": false, "zero": false}, "axis": {"values": [34, 53, 69, 86, 105, 121, 138, 157, 173, 190, 209, 225], "labelExpr": "datum.value==53?'2017':datum.value==105?'2018':datum.value==157?'2019':datum.value==209?'2020':''+((datum.value-1)%52+1)", "offset": -23.5, "title": null}}, "y": {"field": "z", "type": "quantitative", "scale": {"domain": [-34, 76], "nice": false, "zero": false}, "axis": {"values": [0, 20, 40], "offset": -34.7, "title": null}}}}
 ]}
], "spacing": 0},
{"vconcat": [
{"width": 611, "height": 98, "title": {"text": "Italy", "offset": -15, "dx": 13},
 "layer": [
 {"data": {"values": [{}]}, "mark": {"type": "rect", "color": "#fbf1b9"}, "encoding": {"x": {"datum": 229}, "x2": {"datum": 231.7}, "y": {"datum": 46}, "y2": {"datum": -9}}},
 {"data": {"values": [{"t": 53}, {"t": 105}, {"t": 157}, {"t": 209}]}, "mark": {"type": "rule", "color": "#e2e2e2"}, "encoding": {"x": {"field": "t", "type": "quantitative"}, "y": {"datum": 46}, "y2": {"datum": -9}}},
 {"data": {"values": [{"g": 20}, {"g": 40}]}, "mark": {"type": "rule", "color": "#e6e6e6"}, "encoding": {"y": {"field": "g", "type": "quantitative"}, "x": {"datum": 25}, "x2": {"datum": 231.7}}},
 {"data": {"values": [{}]}, "mark": {"type": "rule", "color": "#8d93b3", "strokeDash": [2, 2]}, "encoding": {"y": {"datum": 0}, "x": {"datum": 25}, "x2": {"datum": 231.7}}},
 {"data": {"values": [{}]}, "mark": {"type": "rule", "color": "#e77f86", "strokeDash": [4, 3]}, "encoding": {"y": {"datum": 4}, "x": {"datum": 25}, "x2": {"datum": 231.7}}},
 {"data": {"name": "Italy"}, "mark": {"type": "line", "color": "#aebbe8", "strokeWidth": 3.5, "opacity": 0.5, "interpolate": "monotone"}, "encoding": {"x": {"field": "w", "type": "quantitative"}, "y": {"field": "z", "type": "quantitative"}}},
 {"data": {"name": "Italy"}, "mark": {"type": "line", "color": "#26337c", "strokeWidth": 1.5, "interpolate": "monotone"}, "encoding": {"x": {"field": "w", "type": "quantitative", "scale": {"domain": [11.62, 237.4], "nice": false, "zero": false}, "axis": {"values": [34, 53, 69, 86, 105, 121, 138, 157, 173, 190, 209, 225], "labelExpr": "datum.value==53?'2017':datum.value==105?'2018':datum.value==157?'2019':datum.value==209?'2020':''+((datum.value-1)%52+1)", "offset": -14.5, "title": null}}, "y": {"field": "z", "type": "quantitative", "scale": {"domain": [-23.5, 74.5], "nice": false, "zero": false}, "axis": {"values": [0, 20, 40], "offset": -35.7, "title": null}}}}
 ]},
{"width": 611, "height": 100, "title": {"text": "Luxembourg", "offset": -15, "dx": 13},
 "layer": [
 {"data": {"values": [{}]}, "mark": {"type": "rect", "color": "#fbf1b9"}, "encoding": {"x": {"datum": 229}, "x2": {"datum": 231.7}, "y": {"datum": 46}, "y2": {"datum": -9}}},
 {"data": {"values": [{"t": 53}, {"t": 105}, {"t": 157}, {"t": 209}]}, "mark": {"type": "rule", "color": "#e2e2e2"}, "encoding": {"x": {"field": "t", "type": "quantitative"}, "y": {"datum": 46}, "y2": {"datum": -9}}},
 {"data": {"values": [{"g": 20}, {"g": 40}]}, "mark": {"type": "rule", "color": "#e6e6e6"}, "encoding": {"y": {"field": "g", "type": "quantitative"}, "x": {"datum": 25}, "x2": {"datum": 231.7}}},
 {"data": {"values": [{}]}, "mark": {"type": "rule", "color": "#8d93b3", "strokeDash": [2, 2]}, "encoding": {"y": {"datum": 0}, "x": {"datum": 25}, "x2": {"datum": 231.7}}},
 {"data": {"values": [{}]}, "mark": {"type": "rule", "color": "#e77f86", "strokeDash": [4, 3]}, "encoding": {"y": {"datum": 4}, "x": {"datum": 25}, "x2": {"datum": 231.7}}},
 {"data": {"name": "Luxembourg"}, "mark": {"type": "line", "color": "#aebbe8", "strokeWidth": 3.5, "opacity": 0.5, "interpolate": "monotone"}, "encoding": {"x": {"field": "w", "type": "quantitative"}, "y": {"field": "z", "type": "quantitative"}}},
 {"data": {"name": "Luxembourg"}, "mark": {"type": "line", "color": "#26337c", "strokeWidth": 1.5, "interpolate": "monotone"}, "encoding": {"x": {"field": "w", "type": "quantitative", "scale": {"domain": [11.62, 237.4], "nice": false, "zero": false}, "axis": {"values": [34, 53, 69, 86, 105, 121, 138, 157, 173, 190, 209, 225], "labelExpr": "datum.value==53?'2017':datum.value==105?'2018':datum.value==157?'2019':datum.value==209?'2020':''+((datum.value-1)%52+1)", "offset": -16.5, "title": null}}, "y": {"field": "z", "type": "quantitative", "scale": {"domain": [-25.5, 74.5], "nice": false, "zero": false}, "axis": {"values": [0, 20, 40], "offset": -35.7, "title": null}}}}
 ]},
{"width": 611, "height": 109, "title": {"text": "Malta", "offset": -15, "dx": 13},
 "layer": [
 {"data": {"values": [{}]}, "mark": {"type": "rect", "color": "#fbf1b9"}, "encoding": {"x": {"datum": 229}, "x2": {"datum": 231.7}, "y": {"datum": 46}, "y2": {"datum": -9}}},
 {"data": {"values": [{"t": 53}, {"t": 105}, {"t": 157}, {"t": 209}]}, "mark": {"type": "rule", "color": "#e2e2e2"}, "encoding": {"x": {"field": "t", "type": "quantitative"}, "y": {"datum": 46}, "y2": {"datum": -9}}},
 {"data": {"values": [{"g": 20}, {"g": 40}]}, "mark": {"type": "rule", "color": "#e6e6e6"}, "encoding": {"y": {"field": "g", "type": "quantitative"}, "x": {"datum": 25}, "x2": {"datum": 231.7}}},
 {"data": {"values": [{}]}, "mark": {"type": "rule", "color": "#8d93b3", "strokeDash": [2, 2]}, "encoding": {"y": {"datum": 0}, "x": {"datum": 25}, "x2": {"datum": 231.7}}},
 {"data": {"values": [{}]}, "mark": {"type": "rule", "color": "#e77f86", "strokeDash": [4, 3]}, "encoding": {"y": {"datum": 4}, "x": {"datum": 25}, "x2": {"datum": 231.7}}},
 {"data": {"name": "Malta"}, "mark": {"type": "line", "color": "#aebbe8", "strokeWidth": 3.5, "opacity": 0.5, "interpolate": "monotone"}, "encoding": {"x": {"field": "w", "type": "quantitative"}, "y": {"field": "z", "type": "quantitative"}}},
 {"data": {"name": "Malta"}, "mark": {"type": "line", "color": "#26337c", "strokeWidth": 1.5, "interpolate": "monotone"}, "encoding": {"x": {"field": "w", "type": "quantitative", "scale": {"domain": [11.62, 237.4], "nice": false, "zero": false}, "axis": {"values": [34, 53, 69, 86, 105, 121, 138, 157, 173, 190, 209, 225], "labelExpr": "datum.value==53?'2017':datum.value==105?'2018':datum.value==157?'2019':datum.value==209?'2020':''+((datum.value-1)%52+1)", "offset": -25.5, "title": null}}, "y": {"field": "z", "type": "quantitative", "scale": {"domain": [-34.5, 74.5], "nice": false, "zero": false}, "axis": {"values": [0, 20, 40], "offset": -35.7, "title": null}}}}
 ]}
], "spacing": 0}
], "spacing": 20},
{"hconcat": [
{"vconcat": [
{"width": 607, "height": 100, "view": {"fill": "#fbfbfb", "stroke": null}, "title": {"text": "UK (England)", "offset": -18, "dx": 9},
 "layer": [
 {"data": {"values": [{}]}, "mark": {"type": "rect", "color": "#f7ecb2"}, "encoding": {"x": {"datum": 229}, "x2": {"datum": 231.7}, "y": {"datum": 46}, "y2": {"datum": -10}}},
 {"data": {"values": [{"t": 53}, {"t": 105}, {"t": 157}, {"t": 209}]}, "mark": {"type": "rule", "color": "#dedede"}, "encoding": {"x": {"field": "t", "type": "quantitative"}, "y": {"datum": 46}, "y2": {"datum": -10}}},
 {"data": {"values": [{"g": 20}, {"g": 40}]}, "mark": {"type": "rule", "color": "#e2e2e2"}, "encoding": {"y": {"field": "g", "type": "quantitative"}, "x": {"datum": 25}, "x2": {"datum": 231.7}}},
 {"data": {"values": [{}]}, "mark": {"type": "rule", "color": "#8d93b3", "strokeDash": [2, 2]}, "encoding": {"y": {"datum": 0}, "x": {"datum": 25}, "x2": {"datum": 231.7}}},
 {"data": {"values": [{}]}, "mark": {"type": "rule", "color": "#e77f86", "strokeDash": [4, 3]}, "encoding": {"y": {"datum": 4}, "x": {"datum": 25}, "x2": {"datum": 231.7}}},
 {"data": {"name": "England"}, "mark": {"type": "line", "color": "#aebbe8", "strokeWidth": 3.5, "opacity": 0.5, "interpolate": "monotone"}, "encoding": {"x": {"field": "w", "type": "quantitative"}, "y": {"field": "z", "type": "quantitative"}}},
 {"data": {"name": "England"}, "mark": {"type": "line", "color": "#26337c", "strokeWidth": 1.5, "interpolate": "monotone"}, "encoding": {"x": {"field": "w", "type": "quantitative", "scale": {"domain": [12.75, 237.5], "nice": false, "zero": false}, "axis": {"values": [34, 53, 69, 86, 105, 121, 138, 157, 173, 190, 209, 225], "labelExpr": "datum.value==53?'2017':datum.value==105?'2018':datum.value==157?'2019':datum.value==209?'2020':''+((datum.value-1)%52+1)", "offset": -13.5, "title": null}}, "y": {"field": "z", "type": "quantitative", "scale": {"domain": [-23, 77], "nice": false, "zero": false}, "axis": {"values": [0, 20, 40], "offset": -32, "title": null}}}}
 ]},
{"width": 607, "height": 100, "view": {"fill": "#f1f1f1", "stroke": null}, "title": {"text": "UK (Northern Ireland)", "offset": -18, "dx": 9},
 "layer": [
 {"data": {"values": [{}]}, "mark": {"type": "rect", "color": "#f1e6ad"}, "encoding": {"x": {"datum": 229}, "x2": {"datum": 231.7}, "y": {"datum": 46}, "y2": {"datum": -10}}},
 {"data": {"values": [{"t": 53}, {"t": 105}, {"t": 157}, {"t": 209}]}, "mark": {"type": "rule", "color": "#d6d6d6"}, "encoding": {"x": {"field": "t", "type": "quantitative"}, "y": {"datum": 46}, "y2": {"datum": -10}}},
 {"data": {"values": [{"g": 20}, {"g": 40}]}, "mark": {"type": "rule", "color": "#dadada"}, "encoding": {"y": {"field": "g", "type": "quantitative"}, "x": {"datum": 25}, "x2": {"datum": 231.7}}},
 {"data": {"values": [{}]}, "mark": {"type": "rule", "color": "#8d93b3", "strokeDash": [2, 2]}, "encoding": {"y": {"datum": 0}, "x": {"datum": 25}, "x2": {"datum": 231.7}}},
 {"data": {"values": [{}]}, "mark": {"type": "rule", "color": "#e77f86", "strokeDash": [4, 3]}, "encoding": {"y": {"datum": 4}, "x": {"datum": 25}, "x2": {"datum": 231.7}}},
 {"data": {"name": "NorthernIreland"}, "mark": {"type": "line", "color": "#aebbe8", "strokeWidth": 3.5, "opacity": 0.5, "interpolate": "monotone"}, "encoding": {"x": {"field": "w", "type": "quantitative"}, "y": {"field": "z", "type": "quantitative"}}},
 {"data": {"name": "NorthernIreland"}, "mark": {"type": "line", "color": "#26337c", "strokeWidth": 1.5, "interpolate": "monotone"}, "encoding": {"x": {"field": "w", "type": "quantitative", "scale": {"domain": [12.75, 237.5], "nice": false, "zero": false}, "axis": {"values": [34, 53, 69, 86, 105, 121, 138, 157, 173, 190, 209, 225], "labelExpr": "datum.value==53?'2017':datum.value==105?'2018':datum.value==157?'2019':datum.value==209?'2020':''+((datum.value-1)%52+1)", "offset": -13.5, "title": null}}, "y": {"field": "z", "type": "quantitative", "scale": {"domain": [-23, 77], "nice": false, "zero": false}, "axis": {"values": [0, 20, 40], "offset": -32, "title": null}}}}
 ]},
{"width": 607, "height": 100, "view": {"fill": "#e7e7e7", "stroke": null}, "title": {"text": "UK (Scotland)", "offset": -18, "dx": 9},
 "layer": [
 {"data": {"values": [{}]}, "mark": {"type": "rect", "color": "#e9dea6"}, "encoding": {"x": {"datum": 229}, "x2": {"datum": 231.7}, "y": {"datum": 46}, "y2": {"datum": -10}}},
 {"data": {"values": [{"t": 53}, {"t": 105}, {"t": 157}, {"t": 209}]}, "mark": {"type": "rule", "color": "#cfcfcf"}, "encoding": {"x": {"field": "t", "type": "quantitative"}, "y": {"datum": 46}, "y2": {"datum": -10}}},
 {"data": {"values": [{"g": 20}, {"g": 40}]}, "mark": {"type": "rule", "color": "#d2d2d2"}, "encoding": {"y": {"field": "g", "type": "quantitative"}, "x": {"datum": 25}, "x2": {"datum": 231.7}}},
 {"data": {"values": [{}]}, "mark": {"type": "rule", "color": "#8d93b3", "strokeDash": [2, 2]}, "encoding": {"y": {"datum": 0}, "x": {"datum": 25}, "x2": {"datum": 231.7}}},
 {"data": {"values": [{}]}, "mark": {"type": "rule", "color": "#e77f86", "strokeDash": [4, 3]}, "encoding": {"y": {"datum": 4}, "x": {"datum": 25}, "x2": {"datum": 231.7}}},
 {"data": {"name": "Scotland"}, "mark": {"type": "line", "color": "#aebbe8", "strokeWidth": 3.5, "opacity": 0.5, "interpolate": "monotone"}, "encoding": {"x": {"field": "w", "type": "quantitative"}, "y": {"field": "z", "type": "quantitative"}}},
 {"data": {"name": "Scotland"}, "mark": {"type": "line", "color": "#26337c", "strokeWidth": 1.5, "interpolate": "monotone"}, "encoding": {"x": {"field": "w", "type": "quantitative", "scale": {"domain": [12.75, 237.5], "nice": false, "zero": false}, "axis": {"values": [34, 53, 69, 86, 105, 121, 138, 157, 173, 190, 209, 225], "labelExpr": "datum.value==53?'2017':datum.value==105?'2018':datum.value==157?'2019':datum.value==209?'2020':''+((datum.value-1)%52+1)", "offset": -13.5, "title": null}}, "y": {"field": "z", "type": "quantitative", "scale": {"domain": [-23, 77], "nice": false, "zero": false}, "axis": {"values": [0, 20, 40], "offset": -32, "title": null}}}}
 ]}
], "spacing": 0},
{"vconcat": [
{"width": 603, "height": 99, "view": {"fill": "#fdfdfd", "stroke": null}, "title": {"text": "Estonia", "offset": -13.7, "dx": 10},
 "layer": [
 {"data": {"values": [{}]}, "mark": {"type": "rect", "color": "#fbf1b9"}, "encoding": {"x": {"datum": 229}, "x2": {"datum": 231.7}, "y": {"datum": 46}, "y2": {"datum": -6.5}}},
 {"data": {"values": [{"t": 53}, {"t": 105}, {"t": 157}, {"t": 209}]}, "mark": {"type": "rule", "color": "#e0e0e0"}, "encoding": {"x": {"field": "t", "type": "quantitative"}, "y": {"datum": 46}, "y2": {"datum": -6.5}}},
 {"data": {"values": [{"g": 20}, {"g": 40}]}, "mark": {"type": "rule", "color": "#e4e4e4"}, "encoding": {"y": {"field": "g", "type": "quantitative"}, "x": {"datum": 25}, "x2": {"datum": 231.7}}},
 {"data": {"values": [{}]}, "mark": {"type": "rule", "color": "#8d93b3", "strokeDash": [2, 2]}, "encoding": {"y": {"datum": 0}, "x": {"datum": 25}, "x2": {"datum": 231.7}}},
 {"data": {"values": [{}]}, "mark": {"type": "rule", "color": "#e77f86", "strokeDash": [4, 3]}, "encoding": {"y": {"datum": 4}, "x": {"datum": 25}, "x2": {"datum": 231.7}}},
 {"data": {"name": "Estonia"}, "mark": {"type": "line", "color": "#aebbe8", "strokeWidth": 3.5, "opacity": 0.5, "interpolate": "monotone"}, "encoding": {"x": {"field": "w", "type": "quantitative"}, "y": {"field": "z", "type": "quantitative"}}},
 {"data": {"name": "Estonia"}, "mark": {"type": "line", "color": "#26337c", "strokeWidth": 1.5, "interpolate": "monotone"}, "encoding": {"x": {"field": "w", "type": "quantitative", "scale": {"domain": [12.56, 239.4], "nice": false, "zero": false}, "axis": {"values": [34, 53, 69, 86, 105, 121, 138, 157, 173, 190, 209, 225], "labelExpr": "datum.value==53?'2017':datum.value==105?'2018':datum.value==157?'2019':datum.value==209?'2020':''+((datum.value-1)%52+1)", "offset": -20.5, "title": null}}, "y": {"field": "z", "type": "quantitative", "scale": {"domain": [-27, 72], "nice": false, "zero": false}, "axis": {"values": [0, 20, 40], "offset": -32.7, "title": null}}}}
 ]},
{"width": 603, "height": 99, "view": {"fill": "#f0f0f0", "stroke": null}, "title": {"text": "Finland", "offset": -13.7, "dx": 10},
 "layer": [
 {"data": {"values": [{}]}, "mark": {"type": "rect", "color": "#f1e6ad"}, "encoding": {"x": {"datum": 229}, "x2": {"datum": 231.7}, "y": {"datum": 46}, "y2": {"datum": -6.5}}},
 {"data": {"values": [{"t": 53}, {"t": 105}, {"t": 157}, {"t": 209}]}, "mark": {"type": "rule", "color": "#d6d6d6"}, "encoding": {"x": {"field": "t", "type": "quantitative"}, "y": {"datum": 46}, "y2": {"datum": -6.5}}},
 {"data": {"values": [{"g": 20}, {"g": 40}]}, "mark": {"type": "rule", "color": "#dadada"}, "encoding": {"y": {"field": "g", "type": "quantitative"}, "x": {"datum": 25}, "x2": {"datum": 231.7}}},
 {"data": {"values": [{}]}, "mark": {"type": "rule", "color": "#8d93b3", "strokeDash": [2, 2]}, "encoding": {"y": {"datum": 0}, "x": {"datum": 25}, "x2": {"datum": 231.7}}},
 {"data": {"values": [{}]}, "mark": {"type": "rule", "color": "#e77f86", "strokeDash": [4, 3]}, "encoding": {"y": {"datum": 4}, "x": {"datum": 25}, "x2": {"datum": 231.7}}},
 {"data": {"name": "Finland"}, "mark": {"type": "line", "color": "#aebbe8", "strokeWidth": 3.5, "opacity": 0.5, "interpolate": "monotone"}, "encoding": {"x": {"field": "w", "type": "quantitative"}, "y": {"field": "z", "type": "quantitative"}}},
 {"data": {"name": "Finland"}, "mark": {"type": "line", "color": "#26337c", "strokeWidth": 1.5, "interpolate": "monotone"}, "encoding": {"x": {"field": "w", "type": "quantitative", "scale": {"domain": [12.56, 239.4], "nice": false, "zero": false}, "axis": {"values": [34, 53, 69, 86, 105, 121, 138, 157, 173, 190, 209, 225], "labelExpr": "datum.value==53?'2017':datum.value==105?'2018':datum.value==157?'2019':datum.value==209?'2020':''+((datum.value-1)%52+1)", "offset": -20.5, "title": null}}, "y": {"field": "z", "type": "quantitative", "scale": {"domain": [-27, 72], "nice": false, "zero": false}, "axis": {"values": [0, 20, 40], "offset": -32.7, "title": null}}}}
 ]},
{"width": 603, "height": 105, "view": {"fill": "#e5e5e5", "stroke": null}, "title": {"text": "France", "offset": -13.7, "dx": 10},
 "layer": [
 {"data": {"values": [{}]}, "mark": {"type": "rect", "color": "#e9dea6"}, "encoding": {"x": {"datum": 229}, "x2": {"datum": 231.7}, "y": {"datum": 46}, "y2": {"datum": -6.5}}},
 {"data": {"values": [{"t": 53}, {"t": 105}, {"t": 157}, {"t": 209}]}, "mark": {"type": "rule", "color": "#cdcdcd"}, "encoding": {"x": {"field": "t", "type": "quantitative"}, "y": {"datum": 46}, "y2": {"datum": -6.5}}},
 {"data": {"values": [{"g": 20}, {"g": 40}]}, "mark": {"type": "rule", "color": "#d0d0d0"}, "encoding": {"y": {"field": "g", "type": "quantitative"}, "x": {"datum": 25}, "x2": {"datum": 231.7}}},
 {"data": {"values": [{}]}, "mark": {"type": "rule", "color": "#8d93b3", "strokeDash": [2, 2]}, "encoding": {"y": {"datum": 0}, "x": {"datum": 25}, "x2": {"datum": 231.7}}},
 {"data": {"values": [{}]}, "mark": {"type": "rule", "color": "#e77f86", "strokeDash": [4, 3]}, "encoding": {"y": {"datum": 4}, "x": {"datum": 25}, "x2": {"datum": 231.7}}},
 {"data": {"name": "France"}, "mark": {"type": "line", "color": "#aebbe8", "strokeWidth": 3.5, "opacity": 0.5, "interpolate": "monotone"}, "encoding": {"x": {"field": "w", "type": "quantitative"}, "y": {"field": "z", "type": "quantitative"}}},
 {"data": {"name": "France"}, "mark": {"type": "line", "color": "#26337c", "strokeWidth": 1.5, "interpolate": "monotone"}, "encoding": {"x": {"field": "w", "type": "quantitative", "scale": {"domain": [12.56, 239.4], "nice": false, "zero": false}, "axis": {"values": [34, 53, 69, 86, 105, 121, 138, 157, 173, 190, 209, 225], "labelExpr": "datum.value==53?'2017':datum.value==105?'2018':datum.value==157?'2019':datum.value==209?'2020':''+((datum.value-1)%52+1)", "offset": -26.5, "title": null}}, "y": {"field": "z", "type": "quantitative", "scale": {"domain": [-33, 72], "nice": false, "zero": false}, "axis": {"values": [0, 20, 40], "offset": -32.7, "title": null}}}}
 ]}
], "spacing": 0}
], "spacing": 20}
],
"spacing": 62
}
